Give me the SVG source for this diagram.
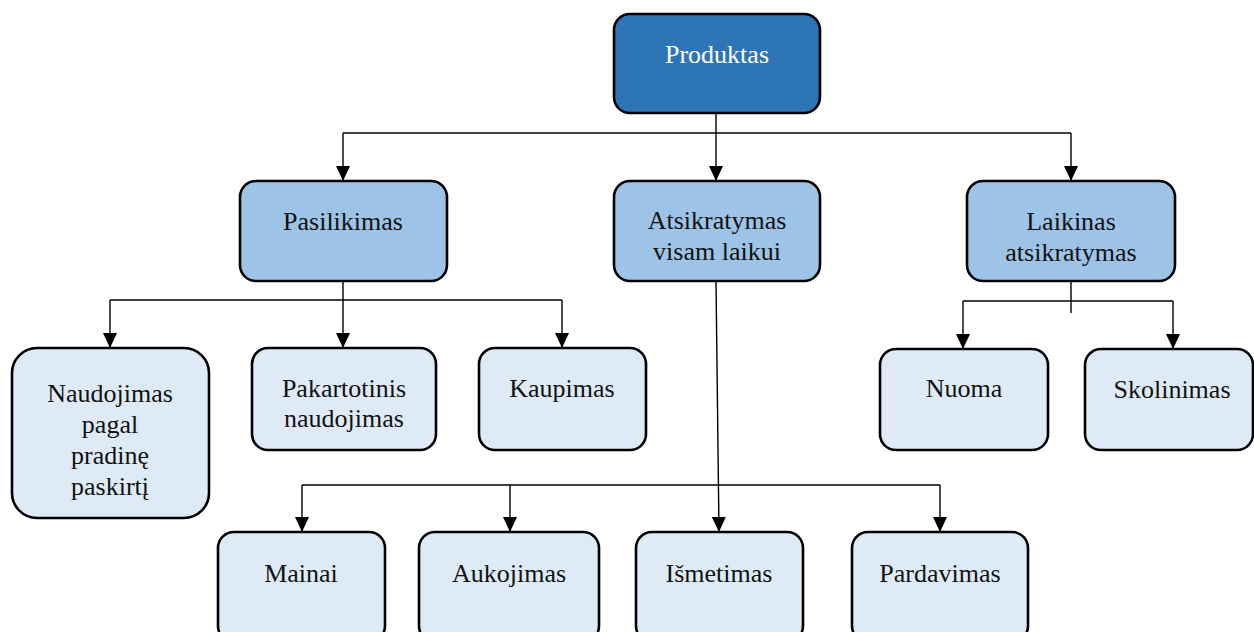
<svg xmlns="http://www.w3.org/2000/svg" width="1254" height="632" viewBox="0 0 1254 632">
<style>
.box{stroke:#000;stroke-width:2.6}
.l1{fill:#2E75B6}
.l2{fill:#9DC3E6}
.l3{fill:#DEEBF7}
text{font-family:"Liberation Serif","Times New Roman",serif;font-size:26px;text-anchor:middle;fill:#111}
.w{fill:#fff}
.c{fill:none;stroke:#000;stroke-width:1.4}
</style>
<defs>
<marker id="arr" viewBox="0 0 15 14" refX="15" refY="7" markerWidth="15" markerHeight="14" orient="auto" markerUnits="userSpaceOnUse">
<path d="M0,0 L15,7 L0,14 z" fill="#000"/>
</marker>
</defs>
<rect width="1254" height="632" fill="#fff"/>
<g id="connectors">
<path class="c" d="M716,113 V181" marker-end="url(#arr)"/>
<path class="c" d="M343,133 H1071"/>
<path class="c" d="M343,133 V181" marker-end="url(#arr)"/>
<path class="c" d="M1071,133 V181" marker-end="url(#arr)"/>
<path class="c" d="M343,281 V348" marker-end="url(#arr)"/>
<path class="c" d="M110,300 H562"/>
<path class="c" d="M110,300 V348" marker-end="url(#arr)"/>
<path class="c" d="M562,300 V348" marker-end="url(#arr)"/>
<path class="c" d="M1071,281 V313"/>
<path class="c" d="M963,301 H1173"/>
<path class="c" d="M963,301 V349" marker-end="url(#arr)"/>
<path class="c" d="M1173,301 V349" marker-end="url(#arr)"/>
<path class="c" d="M716,281 L719,532" marker-end="url(#arr)"/>
<path class="c" d="M302,485 H940"/>
<path class="c" d="M302,485 V532" marker-end="url(#arr)"/>
<path class="c" d="M510,485 V532" marker-end="url(#arr)"/>
<path class="c" d="M940,485 V532" marker-end="url(#arr)"/>
</g>
<g id="produktas"><rect class="box l1" x="614" y="14" width="206" height="99" rx="16"/><text class="w" x="717" y="63">Produktas</text></g>
<g id="pasilikimas"><rect class="box l2" x="240" y="181" width="207" height="100" rx="16"/><text x="343" y="230">Pasilikimas</text></g>
<g id="atsikratymas"><rect class="box l2" x="614" y="181" width="206" height="100" rx="16"/><text x="717" y="229">Atsikratymas</text><text x="717" y="260">visam laikui</text></g>
<g id="laikinas"><rect class="box l2" x="967" y="181" width="208" height="100" rx="16"/><text x="1071" y="230">Laikinas</text><text x="1071" y="261">atsikratymas</text></g>
<g id="naudojimas"><rect class="box l3" x="12" y="348" width="197" height="170" rx="25"/><text x="110" y="402">Naudojimas</text><text x="110" y="433">pagal</text><text x="110" y="464">pradinę</text><text x="110" y="495">paskirtį</text></g>
<g id="pakartotinis"><rect class="box l3" x="252" y="348" width="184" height="102" rx="16"/><text x="344" y="397">Pakartotinis</text><text x="344" y="427">naudojimas</text></g>
<g id="kaupimas"><rect class="box l3" x="479" y="348" width="167" height="102" rx="16"/><text x="562" y="397">Kaupimas</text></g>
<g id="nuoma"><rect class="box l3" x="880" y="349" width="168" height="101" rx="16"/><text x="964" y="397">Nuoma</text></g>
<g id="skolinimas"><rect class="box l3" x="1085" y="349" width="168" height="101" rx="16"/><text x="1172" y="398">Skolinimas</text></g>
<g id="mainai"><rect class="box l3" x="218" y="532" width="167" height="110" rx="16"/><text x="301" y="582">Mainai</text></g>
<g id="aukojimas"><rect class="box l3" x="419" y="532" width="180" height="110" rx="16"/><text x="509" y="582">Aukojimas</text></g>
<g id="ismetimas"><rect class="box l3" x="636" y="532" width="167" height="110" rx="16"/><text x="719" y="582">Išmetimas</text></g>
<g id="pardavimas"><rect class="box l3" x="852" y="532" width="176" height="110" rx="16"/><text x="940" y="582">Pardavimas</text></g>
</svg>
